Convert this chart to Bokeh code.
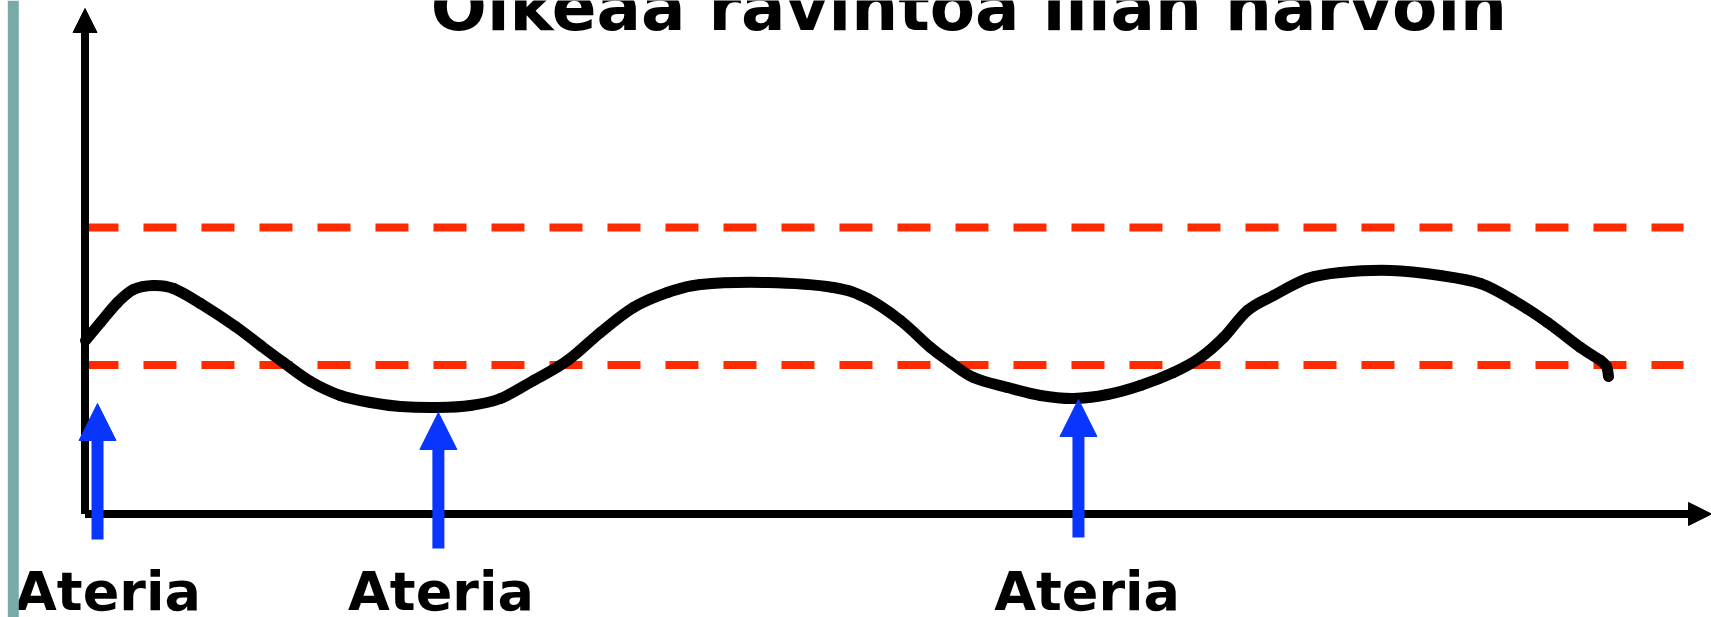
from bokeh.plotting import figure
from bokeh.models import Range1d, Arrow, NormalHead, ColumnDataSource, BoxAnnotation
from bokeh.core.properties import value
from bokeh.embed import file_html
from bokeh.resources import INLINE

# ---------------- data ----------------
title_text = ["Oikeaa ravintoa liian harvoin"]

# time (hours) and blood-sugar level (arbitrary units) of the black curve
time_h = [0.003, 0.095, 0.200, 0.298, 0.421, 0.544, 0.710, 0.925, 1.079, 1.220,
          1.386, 1.570, 1.755, 1.939, 2.167, 2.369, 2.554, 2.757, 2.966, 3.168,
          3.371, 3.580, 3.783, 4.195, 4.600, 4.809, 5.012, 5.197, 5.320, 5.461,
          5.670, 5.873, 6.076, 6.285, 6.487, 6.690, 6.856, 6.998, 7.145, 7.305,
          7.514, 7.717, 8.024, 8.331, 8.577, 8.780, 8.989, 9.192, 9.315, 9.352,
          9.364]
level = [3.47, 3.83, 4.23, 4.49, 4.57, 4.51, 4.21, 3.75, 3.37, 3.03,
         2.65, 2.37, 2.23, 2.15, 2.13, 2.17, 2.31, 2.67, 3.07, 3.63,
         4.13, 4.43, 4.59, 4.63, 4.53, 4.31, 3.87, 3.33, 3.03, 2.73,
         2.53, 2.37, 2.31, 2.39, 2.57, 2.83, 3.13, 3.53, 4.07, 4.37,
         4.71, 4.83, 4.87, 4.77, 4.61, 4.27, 3.83, 3.33, 3.07, 2.95,
         2.75]

low_limit = 2.98
high_limit = 5.73
limit_start = 0.003
limit_end = 9.825

meal_labels = ["Ateria", "Ateria", "Ateria"]
meal_time = [0.077, 2.172, 6.106]
meal_arrow_tip = [2.21, 2.03, 2.29]
meal_arrow_base = [-0.51, -0.69, -0.47]
label_x = [0.141, 2.188, 6.159]
label_y = [-1.55, -1.55, -1.55]
title_x = [5.433]
title_y = [10.13]

# ---------------- layout ----------------
PX_PER_H = 162.7
PX_PER_UNIT = 50.0
ORIGIN_X = 84.5     # pixel of t = 0
ORIGIN_Y = 513.5    # pixel of level = 0
W, H = 1711, 617

x0 = -ORIGIN_X / PX_PER_H
x1 = (W - ORIGIN_X) / PX_PER_H
y1 = ORIGIN_Y / PX_PER_UNIT
y0 = (ORIGIN_Y - H) / PX_PER_UNIT
y_axis_top = (ORIGIN_Y - 8) / PX_PER_UNIT

p = figure(width=W, height=H, x_range=Range1d(x0, x1), y_range=Range1d(y0, y1),
           output_backend="svg", toolbar_location=None, min_border=0,
           x_axis_location=None, y_axis_location=None, outline_line_color=None,
           background_fill_color="white", border_fill_color="white")
p.grid.visible = False

# decorative teal bar at the left edge
p.add_layout(BoxAnnotation(left=(7.3 - ORIGIN_X) / PX_PER_H,
                           right=(18.3 - ORIGIN_X) / PX_PER_H,
                           fill_color="#79AAA7", fill_alpha=1.0, line_color=None))

# threshold dashed lines
for lim in (low_limit, high_limit):
    p.line([limit_start, limit_end], [lim, lim], line_color="#FF2A00",
           line_width=8, line_dash="33 25", line_cap="butt")

# axes with arrow heads
p.add_layout(Arrow(end=NormalHead(size=24, fill_color="black", line_color="black"),
                   x_start=0, y_start=0, x_end=0, y_end=y_axis_top,
                   line_color="black", line_width=8))
p.add_layout(Arrow(end=NormalHead(size=23, fill_color="black", line_color="black"),
                   x_start=0, y_start=0, x_end=x1, y_end=0,
                   line_color="black", line_width=8))

# blood sugar curve, drawn smooth (Catmull-Rom segments as cubic Beziers)
n = len(time_h)
bx0, by0, bx1, by1, bcx0, bcy0, bcx1, bcy1 = [], [], [], [], [], [], [], []
for i in range(n - 1):
    im1 = max(i - 1, 0)
    ip2 = min(i + 2, n - 1)
    bx0.append(time_h[i]); by0.append(level[i])
    bx1.append(time_h[i + 1]); by1.append(level[i + 1])
    bcx0.append(time_h[i] + (time_h[i + 1] - time_h[im1]) / 6)
    bcy0.append(level[i] + (level[i + 1] - level[im1]) / 6)
    bcx1.append(time_h[i + 1] - (time_h[ip2] - time_h[i]) / 6)
    bcy1.append(level[i + 1] - (level[ip2] - level[i]) / 6)
p.bezier(x0=bx0, y0=by0, x1=bx1, y1=by1, cx0=bcx0, cy0=bcy0, cx1=bcx1, cy1=bcy1,
         line_color="black", line_width=11, line_cap="round")

# meal arrows
meal_src = ColumnDataSource(dict(x=meal_time, y0=meal_arrow_base, y1=meal_arrow_tip))
p.add_layout(Arrow(end=NormalHead(size=37, fill_color="#0836FF", line_color="#0836FF"),
                   source=meal_src, x_start="x", y_start="y0", x_end="x", y_end="y1",
                   line_color="#0836FF", line_width=12))

# labels
p.text(x=label_x, y=label_y, text=meal_labels,
       text_font=value("DejaVu Sans"), text_font_style="bold",
       text_font_size="54px", text_color="black",
       text_align="center", text_baseline="alphabetic")

p.text(x=title_x, y=title_y, text=title_text,
       text_font=value("DejaVu Sans"), text_font_style="bold",
       text_font_size="66px", text_color="black",
       text_align="center", text_baseline="alphabetic")

open("out.html", "w").write(file_html(p, INLINE))
